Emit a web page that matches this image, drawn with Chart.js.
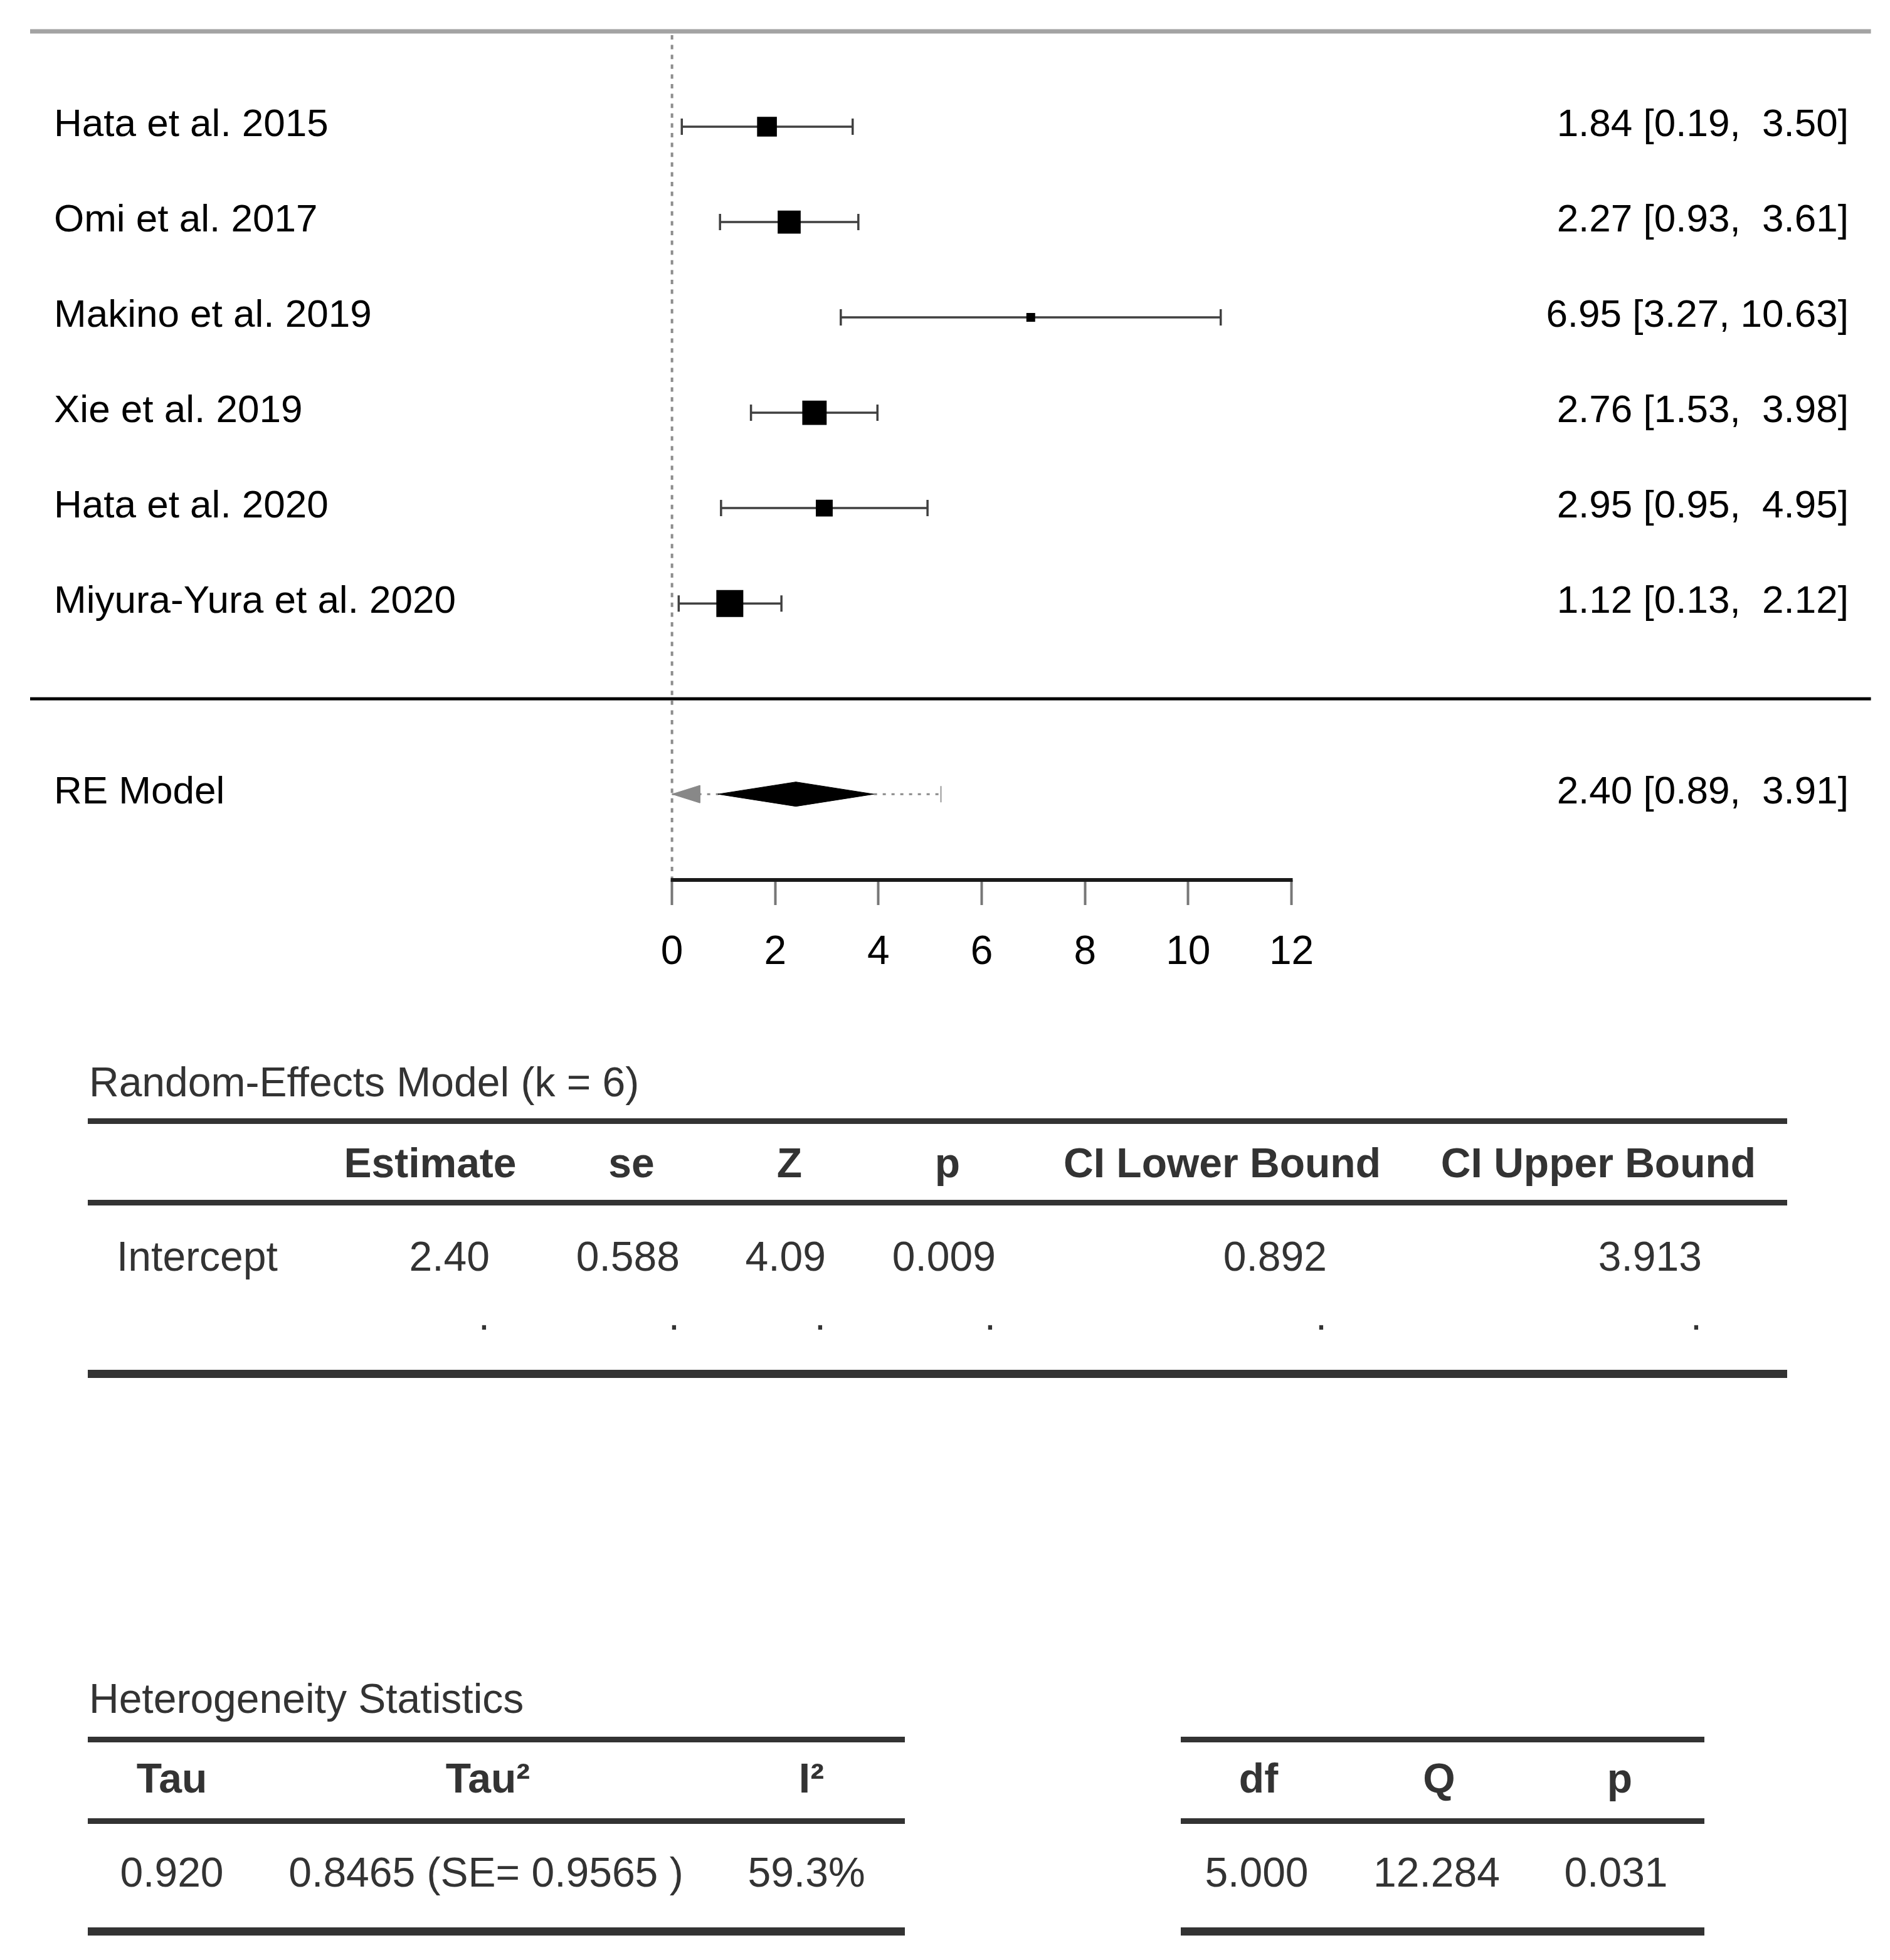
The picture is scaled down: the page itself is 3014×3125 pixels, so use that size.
<!DOCTYPE html>
<html>
<head>
<meta charset="utf-8">
<script src="https://cdn.jsdelivr.net/npm/chart.js@4.4.1/dist/chart.umd.min.js"></script>
<style>
  html, body { margin: 0; padding: 0; background: #fff; }
  body { width: 3014px; height: 3125px; position: relative; overflow: hidden;
         font-family: "Liberation Sans", Arial, Helvetica, sans-serif; }
  #wrap { position: absolute; left: 0; top: 0; width: 3014px; height: 1620px; }
  .t { position: absolute; white-space: pre; line-height: 1; }
  .rule { position: absolute; background: #333; }
</style>
</head>
<body>
<div id="wrap"><canvas id="forest"></canvas></div>
<script>
// forest plot data
const studies = ['Hata et al. 2015', 'Omi et al. 2017', 'Makino et al. 2019',
                 'Xie et al. 2019', 'Hata et al. 2020', 'Miyura-Yura et al. 2020'];
const estimates = [1.84, 2.27, 6.95, 2.76, 2.95, 1.12];
const ciLower = [0.19, 0.93, 3.27, 1.53, 0.95, 0.13];
const ciUpper = [3.50, 3.61, 10.63, 3.98, 4.95, 2.12];
const weights = [16.5, 19.6, 5.9, 20.9, 13.7, 23.4]; // % weight -> square size

const reLabel = 'RE Model';
const reEstimate = 2.40;
const reLower = 0.89;
const reUpper = 3.91;
const piLower = -0.41;
const piUpper = 5.21;

const xTicks = [0, 2, 4, 6, 8, 10, 12];

// tables
const reTitle = 'Random-Effects Model (k = 6)';
const reHeaders = ['Estimate', 'se', 'Z', 'p', 'CI Lower Bound', 'CI Upper Bound'];
const reRowName = 'Intercept';
const reValues = ['2.40', '0.588', '4.09', '0.009', '0.892', '3.913'];
const hetTitle = 'Heterogeneity Statistics';
const hetHeadersA = ['Tau', 'Tau²', 'I²'];
const hetValuesA = ['0.920', '0.8465 (SE= 0.9565 )', '59.3%'];
const hetHeadersB = ['df', 'Q', 'p'];
const hetValuesB = ['5.000', '12.284', '0.031'];

const PAGE_W = 3014;
const FONT = '"Liberation Sans", Arial, Helvetica, sans-serif';

// rows top to bottom like metafor: k..1 shifted, summary at 2
const rowY = studies.map((s, i) => studies.length - i + 3);
const reRow = 2, sepRow = 3;

function fmt2(v) { return v.toFixed(2); }
const loW = Math.max(...ciLower.concat([reLower]).map(v => fmt2(v).length));
const hiW = Math.max(...ciUpper.concat([reUpper]).map(v => fmt2(v).length));
function annot(e, lo, hi) {
  return fmt2(e) + ' [' + fmt2(lo).padStart(loW) + ', ' + fmt2(hi).padStart(hiW) + ']';
}

function place(d, x, y, align, size) {
  d.style.top = (y - 0.49 * size) + 'px';
  if (align === 'right') { d.style.right = (PAGE_W - x) + 'px'; d.style.left = 'auto'; }
  else if (align === 'center') { d.style.left = (x - 600) + 'px'; d.style.width = '1200px'; d.style.textAlign = 'center'; }
  else d.style.left = x + 'px';
}
function addText(txt, o) {
  const d = document.createElement('div');
  d.className = 't';
  d.textContent = txt;
  d.style.fontSize = o.size + 'px';
  d.style.fontWeight = o.bold ? 'bold' : 'normal';
  d.style.color = o.color || '#000';
  document.body.appendChild(d);
  if (o.y !== undefined) place(d, o.x, o.y, o.align, o.size);
  return d;
}
function rule(x1, x2, y, h) {
  const d = document.createElement('div');
  d.className = 'rule';
  d.style.left = x1 + 'px';
  d.style.width = (x2 - x1) + 'px';
  d.style.top = (y - h / 2) + 'px';
  d.style.height = h + 'px';
  document.body.appendChild(d);
}

// study labels + annotations, placed once the scales exist
const LBL = 62;
const leftLabels = studies.concat([reLabel]).map(s => addText(s, {size: LBL}));
const rightLabels = estimates.map((e, i) => annot(e, ciLower[i], ciUpper[i]))
  .concat([annot(reEstimate, reLower, reUpper)])
  .map(s => addText(s, {size: LBL}));
const labelRows = rowY.concat([reRow]);

// marks
const wMin = Math.min(...weights), wMax = Math.max(...weights);
function squareRadius(w) {
  const side = 14 + (w - wMin) / (wMax - wMin) * 29;
  return side / Math.SQRT2;
}

const datasets = [];
datasets.push({
  data: estimates.map((e, i) => ({x: e, y: rowY[i]})),
  showLine: false, pointStyle: 'rect', pointRadius: weights.map(squareRadius),
  pointBackgroundColor: '#000', pointBorderWidth: 0, order: 0
});
const dh = 0.128;
datasets.push({
  data: [{x: reLower, y: reRow}, {x: reEstimate, y: reRow + dh}, {x: reUpper, y: reRow},
         {x: reEstimate, y: reRow - dh}, {x: reLower, y: reRow}],
  showLine: true, fill: 'shape', backgroundColor: '#000', borderColor: '#000',
  borderWidth: 1, pointRadius: 0, order: 1
});
studies.forEach((s, i) => {
  datasets.push({
    data: [{x: ciLower[i], y: rowY[i]}, {x: ciUpper[i], y: rowY[i]}],
    showLine: true, borderColor: '#404040', borderWidth: 3.5,
    pointStyle: 'line', pointRotation: 90, pointRadius: 13,
    pointBorderColor: '#404040', pointBorderWidth: 3.5, order: 2
  });
});
// prediction interval, cut at axis start with an arrow
const piFrom = Math.max(piLower, xTicks[0]);
datasets.push({
  data: [{x: piFrom, y: reRow}, {x: piUpper, y: reRow}],
  showLine: true, borderColor: '#8a8a8a', borderWidth: 3, borderDash: [5, 9],
  pointStyle: 'line', pointRotation: 90, pointRadius: [0, 13],
  pointBorderColor: '#9a9a9a', pointBorderWidth: 2, order: 3
});
if (piLower < xTicks[0]) {
  const aw = 0.54, ah = 0.092;
  datasets.push({
    data: [{x: piFrom, y: reRow}, {x: piFrom + aw, y: reRow + ah},
           {x: piFrom + aw, y: reRow - ah}, {x: piFrom, y: reRow}],
    showLine: true, fill: 'shape', backgroundColor: '#888', borderColor: '#888',
    borderWidth: 1, pointRadius: 0, order: 1
  });
}

const framePlugin = {
  id: 'frame',
  beforeDatasetsDraw(chart) {
    const {ctx, chartArea: a, scales: {x, y}} = chart;
    ctx.save();
    ctx.fillStyle = '#a3a3a3';
    ctx.fillRect(a.left, a.top - 3.5, a.right - a.left, 7);
    const ys = y.getPixelForValue(sepRow);
    ctx.fillStyle = '#000';
    ctx.fillRect(a.left, ys - 2.5, a.right - a.left, 5);
    const x0 = x.getPixelForValue(0);
    ctx.strokeStyle = '#8c8c8c';
    ctx.lineWidth = 4;
    ctx.setLineDash([7, 8.6]);
    ctx.beginPath();
    ctx.moveTo(x0, a.top + 6);
    ctx.lineTo(x0, a.bottom);
    ctx.stroke();
    ctx.restore();
  },
  afterDraw(chart) {
    const {ctx, chartArea: a, scales: {x, y}} = chart;
    const xa = x.getPixelForValue(xTicks[0]);
    const xb = x.getPixelForValue(xTicks[xTicks.length - 1]);
    ctx.save();
    ctx.fillStyle = '#1a1a1a';
    ctx.fillRect(xa - 2, a.bottom - 3, xb - xa + 4, 6);
    ctx.restore();
    labelRows.forEach((r, i) => {
      const py = y.getPixelForValue(r) - 7;
      place(leftLabels[i], 86, py, 'left', LBL);
      place(rightLabels[i], 2948, py, 'right', LBL);
    });
  }
};

new Chart(document.getElementById('forest'), {
  type: 'line',
  data: {datasets: datasets},
  plugins: [framePlugin],
  options: {
    responsive: true,
    maintainAspectRatio: false,
    animation: false,
    events: [],
    layout: {padding: {left: 48, right: 18, top: 50, bottom: 27}},
    plugins: {legend: {display: false}, tooltip: {enabled: false}},
    scales: {
      x: {
        type: 'linear', min: -12.435, max: 23.226,
        afterBuildTicks: s => { s.ticks = xTicks.map(v => ({value: v})); },
        afterFit: s => { s.height = 190; },
        border: {display: false},
        grid: {drawOnChartArea: false, drawTicks: true, tickLength: 40, tickColor: '#777', tickWidth: 4},
        ticks: {color: '#000', font: {family: FONT, size: 64}, padding: 38,
                maxRotation: 0, autoSkip: false, callback: v => String(v)}
      },
      y: {type: 'linear', display: false, min: 1.1, max: 10}
    }
  }
});

// results table
const TS = 66, TC = '#333';
addText(reTitle, {x: 142, y: 1724, size: TS, color: TC});
rule(140, 2850, 1787, 9);
rule(140, 2850, 1917, 9);
rule(140, 2850, 2190, 13);
const reHeadX = [686, 1007, 1259, 1511, 1949, 2549];
const reValX = [781, 1084, 1317, 1588, 2116, 2714];
reHeaders.forEach((h, i) => addText(h, {x: reHeadX[i], y: 1853, size: TS, bold: true, color: TC, align: 'center'}));
addText(reRowName, {x: 186, y: 2002, size: TS, color: TC});
reValues.forEach((v, i) => {
  addText(v, {x: reValX[i], y: 2002, size: TS, color: TC, align: 'right'});
  addText('.', {x: reValX[i], y: 2096, size: TS, color: TC, align: 'right'});
});

// heterogeneity tables
addText(hetTitle, {x: 142, y: 2707, size: TS, color: TC});
[[140, 1443], [1883, 2718]].forEach(([a, b]) => {
  rule(a, b, 2773, 9);
  rule(a, b, 2903, 9);
  rule(a, b, 3079, 13);
});
const hetHeadAX = [274, 778, 1294], hetValAX = [274, 775, 1286];
const hetHeadBX = [2007, 2295, 2583], hetValBX = [2004, 2291, 2577];
hetHeadersA.forEach((h, i) => addText(h, {x: hetHeadAX[i], y: 2834, size: TS, bold: true, color: TC, align: 'center'}));
hetValuesA.forEach((v, i) => addText(v, {x: hetValAX[i], y: 2984, size: TS, color: TC, align: 'center'}));
hetHeadersB.forEach((h, i) => addText(h, {x: hetHeadBX[i], y: 2834, size: TS, bold: true, color: TC, align: 'center'}));
hetValuesB.forEach((v, i) => addText(v, {x: hetValBX[i], y: 2984, size: TS, color: TC, align: 'center'}));
</script>
</body>
</html>
